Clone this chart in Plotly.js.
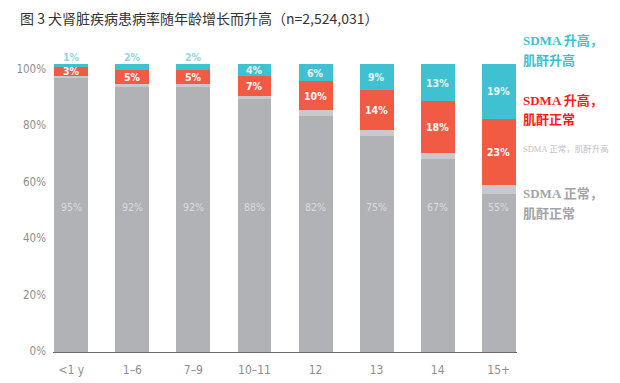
<!DOCTYPE html>
<html>
<head>
<meta charset="utf-8">
<script src="https://cdn.plot.ly/plotly-3.0.1.min.js"></script>
<style>html,body{margin:0;padding:0;background:#fff;}#chart{width:620px;height:383px;}</style>
</head>
<body>
<div id="chart"></div>
<script>
// Data (percent of dogs per age group)
const ageGroups = ['<1 y', '1–6', '7–9', '10–11', '12', '13', '14', '15+'];
const sdmaNormalCreaNormal = [95, 92, 92, 88, 82, 75, 67, 55];
const sdmaNormalCreaHigh   = [1, 1, 1, 1, 2, 2, 2, 3];
const sdmaHighCreaNormal   = [3, 5, 5, 7, 10, 14, 18, 23];
const sdmaHighCreaHigh     = [1, 2, 2, 4, 6, 9, 13, 19];
const yTickVals = [0, 20, 40, 60, 80, 100];
const yTickText = ['0%', '20%', '40%', '60%', '80%', '100%'];

const C_GRAY = '#b1b2b5', C_LGRAY = '#c8c9cb', C_RED = '#f15a43', C_CYAN = '#40c1d1';
const numFont = 'Liberation Sans Narrow, DejaVu Sans Condensed, Arial Narrow, sans-serif';
const cjkSerif = 'Liberation Serif, Noto Sans CJK SC, serif';

const traces = [
  {name: 'SDMA 正常，肌酐正常', y: sdmaNormalCreaNormal, color: C_GRAY},
  {name: 'SDMA 正常，肌酐升高', y: sdmaNormalCreaHigh, color: C_LGRAY},
  {name: 'SDMA 升高，肌酐正常', y: sdmaHighCreaNormal, color: C_RED},
  {name: 'SDMA 升高，肌酐升高', y: sdmaHighCreaHigh, color: C_CYAN}
].map(s => ({
  type: 'bar', x: ageGroups, y: s.y, name: s.name,
  marker: {color: s.color, line: {width: 0}},
  hoverinfo: 'skip', showlegend: false
}));
// carrier (draws nothing) so the tick-label axis is rendered
traces.push({type: 'scatter', x: ageGroups, y: sdmaNormalCreaNormal, yaxis: 'y2', mode: 'none',
  hoverinfo: 'skip', showlegend: false});

const annotations = [];
ageGroups.forEach((g, i) => {
  annotations.push({x: i, y: 50.3, xref: 'x', yref: 'y', text: sdmaNormalCreaNormal[i] + '%',
    showarrow: false, font: {family: numFont, size: 10.5, color: '#dadbdd'}});
  const base = sdmaNormalCreaNormal[i] + sdmaNormalCreaHigh[i];
  const redMid = base + sdmaHighCreaNormal[i] / 2;
  annotations.push({x: i, y: redMid, xref: 'x', yref: 'y', text: '<b>' + sdmaHighCreaNormal[i] + '%</b>',
    showarrow: false, font: {family: numFont, size: 10.5, color: '#ffffff'}});
  const top = base + sdmaHighCreaNormal[i];
  const cy = sdmaHighCreaHigh[i];
  if (cy < 3) {
    annotations.push({x: i, y: top + cy, xref: 'x', yref: 'y', yanchor: 'bottom', text: '<b>' + cy + '%</b>',
      showarrow: false, borderpad: 0, font: {family: numFont, size: 10.5, color: '#92d7e1'}});
  } else {
    annotations.push({x: i, y: top + cy / 2, xref: 'x', yref: 'y', text: '<b>' + cy + '%</b>',
      showarrow: false, font: {family: numFont, size: 10.5, color: '#e8f7f9'}});
  }
});

// right-side legend text
function legendText(text, yPx, color, size, bold) {
  annotations.push({xref: 'paper', yref: 'paper', x: (521 - 53) / 464, xanchor: 'left',
    y: (352 - yPx) / 288, yanchor: 'middle', showarrow: false, align: 'left',
    text: bold ? '<b>' + text + '</b>' : text,
    font: {family: cjkSerif, size: size, color: color}});
}
legendText('SDMA 升高，', 41, '#3dbfd0', 13, true);
legendText('肌酐升高', 61, '#3dbfd0', 13, true);
legendText('SDMA 升高，', 100, '#ff1a1a', 13, true);
legendText('肌酐正常', 119, '#ff1a1a', 13, true);
legendText('SDMA 正常，肌酐升高', 149, '#c2c2c4', 8.5, false);
legendText('SDMA 正常，', 193, '#a3a4a7', 13, true);
legendText('肌酐正常', 213, '#a3a4a7', 13, true);

const tickFont = {family: numFont, size: 11.5, color: '#8e8e90'};
const layout = {
  width: 620, height: 383,
  margin: {l: 53, r: 103, t: 64, b: 31, pad: 0},
  paper_bgcolor: '#ffffff', plot_bgcolor: '#ffffff',
  barmode: 'stack', bargap: 0.444,
  title: {text: '图 3 犬肾脏疾病患病率随年龄增长而升高（n=2,524,031）',
    x: 20 / 620, xref: 'container', xanchor: 'left',
    y: 1 - 19 / 383, yref: 'container', yanchor: 'middle',
    font: {family: 'Noto Sans CJK SC, sans-serif', size: 14, color: '#333333'}},
  xaxis: {type: 'category', range: [-0.3, 7.3], showgrid: false, zeroline: false,
    showline: true, linecolor: '#6b6b6b', linewidth: 1.2, ticks: '', ticklabelstandoff: 6,
    tickfont: {family: numFont, size: 12, color: '#8e8e90'}, fixedrange: true},
  yaxis: {range: [0, 100], showticklabels: false, showgrid: false,
    zeroline: false, showline: false, ticks: '', fixedrange: true},
  yaxis2: {overlaying: 'y', side: 'left', range: [-0.355, 101.77], tickvals: yTickVals, ticktext: yTickText,
    showgrid: false, zeroline: false, showline: false, ticks: '', ticklabelstandoff: 6,
    tickfont: tickFont, fixedrange: true},
  annotations: annotations,
  showlegend: false
};

Plotly.newPlot('chart', traces, layout, {displayModeBar: false, staticPlot: true});
</script>
</body>
</html>
